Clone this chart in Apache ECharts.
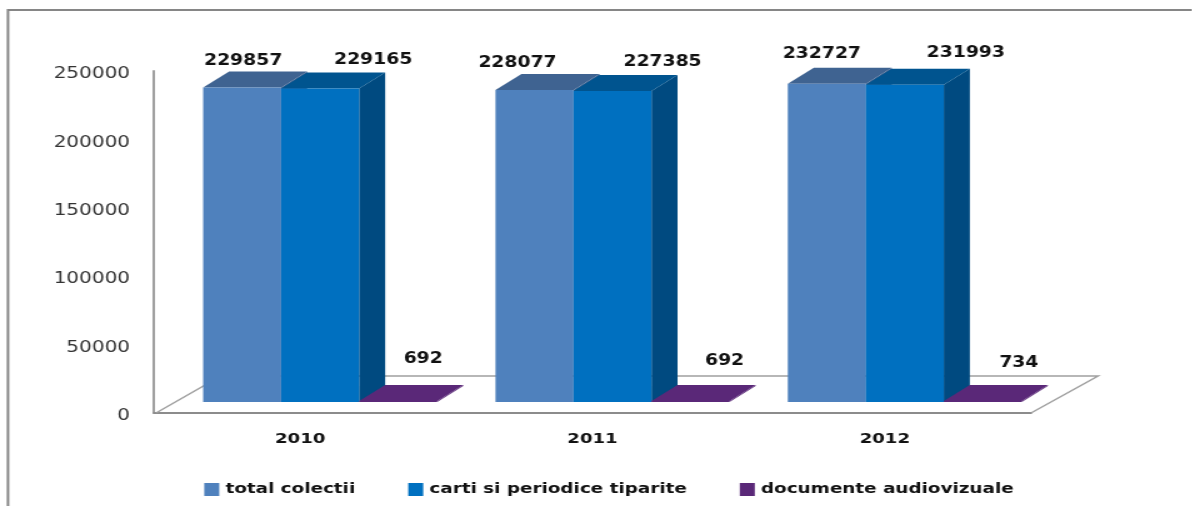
<!DOCTYPE html>
<html><head><meta charset="utf-8">
<style>html,body{margin:0;padding:0;background:#fff;overflow:hidden}
#c{position:absolute;left:0;top:0;height:506px;transform-origin:0 0;filter:blur(0.4px)}</style>
<script src="https://cdn.jsdelivr.net/npm/echarts@6/dist/echarts.min.js"></script>
</head><body><div id="c"></div>
<script>
const categories = ['2010','2011','2012'];
const seriesNames = ['total colectii','carti si periodice tiparite','documente audiovizuale'];
const totalColectii = [229857,228077,232727];
const cartiPeriodice = [229165,227385,231993];
const documenteAudio = [692,692,734];
const yMax = 250000, yStep = 50000;

// The reference is horizontally stretched: draw in a narrower box and stretch it.
const S = 1.25;
const X = px => px / S;
const el = document.getElementById('c');
el.style.width = (1192 / S) + 'px';
el.style.transform = 'scaleX(' + S + ')';

const faces = [
  {front:'#4F81BD', top:'#3F6391', side:'#3F6391'},
  {front:'#0070C0', top:'#00548F', side:'#004A80'},
  {front:'#5A2878', top:'#5A2878', side:'#5A2878'}
];
// label offsets from each bar's front-top-centre, in screen px: [series][category]
const labelOffsets = [
  [[1,-26],[-17,-27],[-5,-30]],
  [[53,-28],[50,-29],[61,-32]],
  [[25,-42],[34,-40],[36,-38]]
];
const barFrac = 78 / 292.3, groupShift = 20, floorDrop = 11, depthX = 26, depthY = 16;

function bar3d(si){
  return function(params, api){
    const cat = api.value(0), val = api.value(1);
    const base = api.coord([cat, 0]), top = api.coord([cat, val]);
    const band = api.size([1,0])[0];
    const w = band * barFrac;
    const x0 = base[0] + X(groupShift) + (si - 1.5) * w, x1 = x0 + w;
    const yb = base[1] - floorDrop, yt = top[1] - floorDrop;
    const dx = X(depthX), f = faces[si];
    const off = labelOffsets[si][cat];
    return {type:'group', children:[
      {type:'polygon', shape:{points:[[x1,yb],[x1+dx,yb-depthY],[x1+dx,yt-depthY],[x1,yt]]}, style:{fill:f.side}},
      {type:'polygon', shape:{points:[[x0,yt],[x0+dx,yt-depthY],[x1+dx,yt-depthY],[x1,yt]]}, style:{fill:f.top}},
      {type:'rect', shape:{x:x0,y:yt,width:w,height:Math.max(yb-yt,0.5)}, style:{fill:f.front}},
      {type:'text', z2:50, x:(x0+x1)/2+X(off[0]), y:yt+off[1],
       style:{text:String(val), fontFamily:'DejaVu Sans', fontWeight:'bold', fontSize:15, fill:'#111', align:'center', verticalAlign:'middle'}}
    ]};
  };
}
function floor(params, api){
  const a = api.coord([0,0]);
  const band = api.size([1,0])[0];
  const left = a[0] - band/2, right = left + band*categories.length;
  const y0 = a[1], dx = X(67), dy = 37;
  return {type:'polyline', shape:{points:[[left+X(2),y0],[left+dx,y0-dy],[right+dx,y0-dy],[right,y0]]},
          style:{fill:null, stroke:'#A0A0A0', lineWidth:1.5}};
}
const mk = (name, arr, si) => ({
  name, type:'custom', z:3+si, renderItem:bar3d(si), clip:false,
  itemStyle:{color:faces[si].front},
  encode:{x:0,y:1},
  data:arr.map((v,i)=>[i,v])
});

const chart = echarts.init(el, null, {renderer:'canvas'});
chart.setOption({
  animation:false,
  backgroundColor:'#fff',
  graphic:[
    {type:'polyline', silent:true, shape:{points:[[X(8),506],[X(8),10],[X(1192),10]]}, style:{fill:null, stroke:'#868686', lineWidth:2}}
  ],
  grid:{left:X(154), top:71, width:X(877), height:342, containLabel:false},
  legend:{data:seriesNames, left:X(198), top:477, itemWidth:X(15), itemHeight:13, itemGap:X(53), icon:'rect',
    textStyle:{fontFamily:'DejaVu Sans', fontWeight:'bold', fontSize:14.7, color:'#111'}},
  xAxis:{type:'category', data:categories, axisTick:{show:false},
    axisLine:{lineStyle:{color:'#8C8C8C', width:2}},
    axisLabel:{fontFamily:'DejaVu Sans', fontWeight:'bold', fontSize:14.5, color:'#111', margin:19}},
  yAxis:{type:'value', min:0, max:yMax, interval:yStep, splitLine:{show:false}, axisTick:{show:false},
    axisLine:{show:true, lineStyle:{color:'#A0A0A0', width:2}},
    axisLabel:{fontFamily:'DejaVu Sans', fontSize:16, color:'#333', margin:X(24), formatter:v=>String(v), verticalAlign:'top', lineHeight:6}},
  series:[
    {name:'floor', type:'custom', z:1, renderItem:floor, data:[[0,0]], encode:{x:0,y:1}, clip:false, silent:true},
    mk(seriesNames[0], totalColectii, 0),
    mk(seriesNames[1], cartiPeriodice, 1),
    mk(seriesNames[2], documenteAudio, 2)
  ]
});
</script></body></html>
